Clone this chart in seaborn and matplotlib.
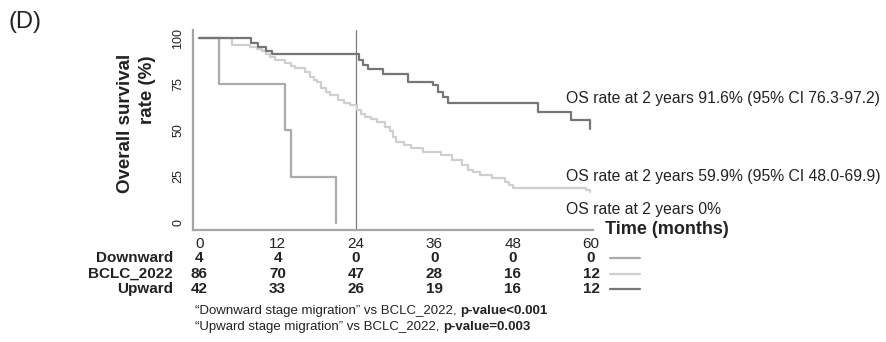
import matplotlib
matplotlib.use("Agg")
import matplotlib.pyplot as plt
import matplotlib.transforms as mtransforms
import pandas as pd
import seaborn as sns

# Kaplan-Meier step points (months, % surviving)
down_t = [0, 3.0, 13.1, 14.1, 21.0]
down_s = [100, 75, 50, 25, 0]

bclc_t = [0, 5.0, 7.8, 8.8, 9.6, 10.2, 10.8, 11.6, 13.1, 14.0, 14.7, 16.2, 17.0, 17.6,
          18.0, 18.7, 19.4, 20.0, 21.3, 22.2, 23.1, 24.1, 24.8, 25.4, 26.3, 27.2, 28.4,
          29.2, 29.7, 30.2, 31.3, 32.5, 34.3, 37.1, 38.7, 40.2, 41.2, 42.0, 43.0, 44.8,
          46.8, 47.5, 48.1, 59.3, 59.9]
bclc_s = [100, 96.5, 95.3, 94.1, 92.9, 91.7, 90.0, 88.2, 86.4, 85.2, 83.7, 81.9, 79.2, 77.6,
          76.4, 72.8, 71.0, 69.2, 66.4, 65.0, 63.7, 61.0, 59.2, 57.3, 56.0, 54.6, 51.9,
          49.5, 46.5, 43.8, 42.0, 40.3, 38.5, 36.7, 34.0, 31.3, 28.6, 27.3, 25.9, 24.1,
          22.2, 20.5, 18.7, 17.5, 16.8]

up_t = [0, 8.0, 9.0, 10.2, 11.2, 24.4, 25.1, 25.9, 28.2, 32.0, 35.8, 36.6, 37.4, 38.1,
        51.9, 57.0, 59.9]
up_s = [100, 97.6, 95.2, 92.9, 91.6, 88.2, 85.5, 83.2, 80.5, 76.5, 74.7, 71.0, 68.3, 64.7,
        60.2, 55.7, 51.0]

groups = ["Downward", "BCLC_2022", "Upward"]
colors = {"Downward": "#ababab", "BCLC_2022": "#cfcfcf", "Upward": "#767676"}

x_ticks = [0, 12, 24, 36, 48, 60]
y_ticks = [0, 25, 50, 75, 100]
at_risk = {
    "Downward": [4, 4, 0, 0, 0, 0],
    "BCLC_2022": [86, 70, 47, 28, 16, 12],
    "Upward": [42, 33, 26, 19, 16, 12],
}
os_notes = [
    ("OS rate at 2 years 91.6% (95% CI 76.3-97.2)", 67.6),
    ("OS rate at 2 years 59.9% (95% CI 48.0-69.9)", 24.8),
    ("OS rate at 2 years 0%", 6.9),
]
pvals = [
    ("\u201cDownward stage migration\u201d vs BCLC_2022, ", "p-value<0.001"),
    ("\u201cUpward stage migration\u201d vs BCLC_2022, ", "p-value=0.003"),
]

df = pd.concat([
    pd.DataFrame({"time": down_t, "surv": down_s, "group": "Downward"}),
    pd.DataFrame({"time": bclc_t, "surv": bclc_s, "group": "BCLC_2022"}),
    pd.DataFrame({"time": up_t, "surv": up_s, "group": "Upward"}),
])

sns.set_style("white")
plt.rcParams["font.family"] = ["Liberation Sans", "DejaVu Sans"]

W, H = 886, 342
fig = plt.figure(figsize=(W / 100, H / 100), dpi=100)
ax = fig.add_axes([192.7 / W, 1 - 230 / H, (593 - 192.7) / W, 200 / H])

ax.axvline(24, color="#7a7a7a", lw=0.9, zorder=1)
for g in groups:
    d = df[df["group"] == g]
    sns.lineplot(data=d, x="time", y="surv", ax=ax, color=colors[g], lw=1.6,
                 drawstyle="steps-post", estimator=None, sort=False, zorder=3)

ax.set_xlim(-1.0, 60.3)
ax.set_ylim(-4.0, 104.5)
ax.set_xticks(x_ticks)
ax.set_yticks(y_ticks)
ax.set_xticklabels([str(t) for t in x_ticks], fontsize=11)
ax.set_yticklabels([str(t) for t in y_ticks], fontsize=9, rotation=90, va="center")
ax.tick_params(axis="both", colors="#9a9a9a", length=4, width=1, labelcolor="#222222")
ax.tick_params(axis="x", pad=1)
ax.tick_params(axis="y", pad=2)
ax.set_xlabel("")
ax.set_ylabel("")
for s in ["top", "right"]:
    ax.spines[s].set_visible(False)
for s in ["left", "bottom"]:
    ax.spines[s].set_color("#a5a5a5")
    ax.spines[s].set_linewidth(1.6)

# OS notes next to curves
for txt, yv in os_notes:
    ax.text(56.2, yv, txt, fontsize=11.3, color="#222222", ha="left", va="center", clip_on=False)

fig.text(605 / W, 1 - 230 / H, "Time (months)", fontsize=13, fontweight="bold",
         color="#222222", ha="left", va="center")

# y label
fig.text(125 / W, 1 - 123 / H, "Overall survival", fontsize=13.5, fontweight="bold",
         rotation=90, ha="center", va="center", color="#222222")
fig.text(147 / W, 1 - 90 / H, "rate (%)", fontsize=13.5, fontweight="bold",
         rotation=90, ha="center", va="center", color="#222222")

fig.text(9 / W, 1 - 22 / H, "(D)", fontsize=17, ha="left", va="center", color="#222222")

# number at risk table
blend = mtransforms.blended_transform_factory(ax.transData, fig.transFigure)
row_y = [258, 274, 289]
for g, ry in zip(groups, row_y):
    fy = 1 - ry / H
    fig.text(173 / W, fy, g, fontsize=11, fontweight="bold", ha="right", va="center", color="#222222")
    for t, n in zip(x_ticks, at_risk[g]):
        ax.text(t, fy, str(n), transform=blend, fontsize=11, fontweight="bold",
                ha="center", va="center", color="#222222", clip_on=False)
    ax.plot([62.9, 67.5], [fy, fy], transform=blend, color=colors[g], lw=1.6, clip_on=False)

# p-values
for (reg, bold), ry in zip(pvals, [311, 327]):
    t1 = fig.text(195 / W, 1 - ry / H, reg, fontsize=9.5, ha="left", va="center", color="#222222")
    ax.annotate(bold, xy=(1, 0.5), xycoords=t1, fontsize=9.5, fontweight="bold",
                ha="left", va="center", color="#222222")

fig.savefig("out.png", dpi=100, facecolor="white")
